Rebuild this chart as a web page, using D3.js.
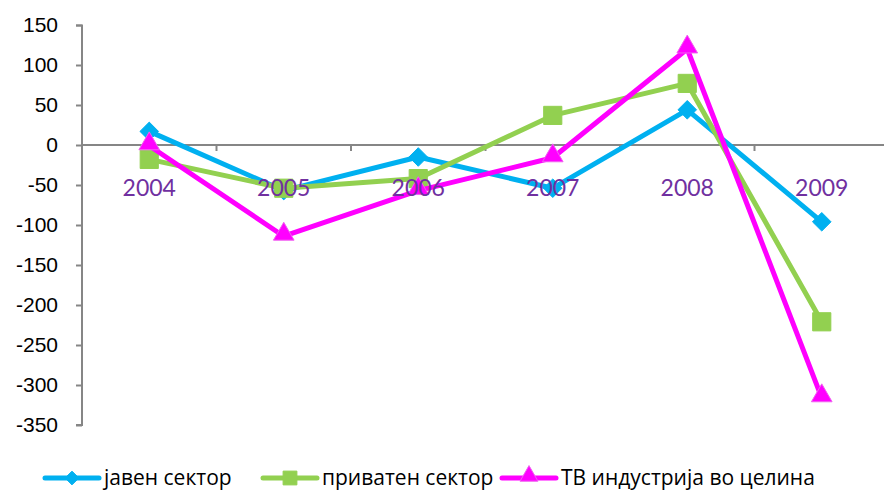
<!DOCTYPE html>
<html>
<head>
<meta charset="utf-8">
<script src="https://cdn.jsdelivr.net/npm/d3@7"></script>
<style>
  body { margin: 0; background: #fff; }
  .y-axis text { font-family: "Liberation Sans", Arial, sans-serif; font-size: 21px; fill: #000; }
  .cat-label { font-family: Lato, "Open Sans", sans-serif; font-size: 23px; fill: #7030a0; }
  .legend text { font-family: "Open Sans", Lato, sans-serif; font-size: 21px; fill: #000; }
</style>
</head>
<body>
<svg id="chart"></svg>
<script>
const years = ['2004', '2005', '2006', '2007', '2008', '2009'];
const javen = [17, -57, -15, -54, 44, -96];
const privaten = [-18, -54, -42, 37, 77, -221];
const tvVkupno = [-1, -114, -57, -16, 120, -316];
const yTicks = [150, 100, 50, 0, -50, -100, -150, -200, -250, -300, -350];

const series = [
  {name: 'јавен сектор', values: javen, color: '#00b0f0', marker: 'diamond'},
  {name: 'приватен сектор', values: privaten, color: '#92d050', marker: 'square'},
  {name: 'ТВ индустрија во целина', values: tvVkupno, color: '#ff00ff', marker: 'triangle'}
];

const width = 884, height = 490;
const margin = {top: 25, left: 82};
const plotW = 807, plotH = 400;

const svg = d3.select('#chart').attr('width', width).attr('height', height);
const chart = svg.append('g').attr('transform', `translate(${margin.left},${margin.top})`);

const x = d3.scaleBand().domain(years).range([0, plotW]);
const y = d3.scaleLinear().domain([-350, 150]).range([plotH, 0]);

// y axis, plain hyphen minus like the original
chart.append('g')
  .attr('class', 'y-axis')
  .call(d3.axisLeft(y).tickValues(yTicks).tickFormat(d => String(d)).tickSize(6).tickPadding(18))
  .call(g => g.select('.domain').attr('stroke', '#868686').attr('stroke-width', 2).attr('d', `M-6,0.5H0V${plotH}H-6`))
  .call(g => g.selectAll('.tick line').attr('stroke', '#868686').attr('stroke-width', 2));

// zero line with category ticks
const zeroG = chart.append('g').attr('transform', `translate(0,${y(0)})`);
zeroG.append('line').attr('x1', 0).attr('x2', plotW).attr('stroke', '#868686').attr('stroke-width', 2);
zeroG.selectAll('.ctick')
  .data(years.slice(1))
  .enter()
  .append('line')
  .attr('x1', d => x(d)).attr('x2', d => x(d))
  .attr('y1', 0).attr('y2', 6)
  .attr('stroke', '#868686').attr('stroke-width', 2);

const line = d3.line()
  .x((d, i) => x(years[i]) + x.bandwidth() / 2)
  .y(d => y(d));

const bigSym = {
  diamond: d3.symbol().type(d3.symbolDiamond2).size(220),
  square: d3.symbol().type(d3.symbolSquare).size(330),
  triangle: d3.symbol().type(d3.symbolTriangle).size(185)
};
const smallSym = {
  diamond: d3.symbol().type(d3.symbolDiamond2).size(120),
  square: d3.symbol().type(d3.symbolSquare).size(190),
  triangle: d3.symbol().type(d3.symbolTriangle).size(140)
};

function drawMarker(g, s, cx, cy, syms) {
  g.append('path')
    .attr('d', syms[s.marker]())
    .attr('transform', s.marker === 'triangle' ? `translate(${cx},${cy - 2})` : `translate(${cx},${cy})`)
    .attr('fill', s.color)
    .attr('stroke', s.marker === 'triangle' ? '#f060f0' : s.color)
    .attr('stroke-width', 1);
}

series.forEach(s => {
  chart.append('path')
    .datum(s.values)
    .attr('fill', 'none')
    .attr('stroke', s.color)
    .attr('stroke-width', 5)
    .attr('stroke-linejoin', 'round')
    .attr('d', line);
  const mg = chart.append('g');
  s.values.forEach((v, i) => drawMarker(mg, s, x(years[i]) + x.bandwidth() / 2, y(v), bigSym));
});

// category labels
chart.selectAll('.cat-label')
  .data(years)
  .enter()
  .append('text')
  .attr('class', 'cat-label')
  .attr('x', d => x(d) + x.bandwidth() / 2)
  .attr('y', y(0) + 51)
  .attr('text-anchor', 'middle')
  .text(d => d);

// legend
const legendX = [45, 263, 502];
const legend = svg.append('g').attr('class', 'legend');
series.forEach((s, i) => {
  const g = legend.append('g').attr('transform', `translate(${legendX[i]},478)`);
  g.append('line').attr('x1', 0).attr('x2', 54).attr('stroke', s.color).attr('stroke-width', 5).attr('stroke-linecap', 'round');
  drawMarker(g, s, 27, 0, smallSym);
  g.append('text').attr('x', 59).attr('y', 0).attr('dy', '0.34em').text(s.name);
});
</script>
</body>
</html>
